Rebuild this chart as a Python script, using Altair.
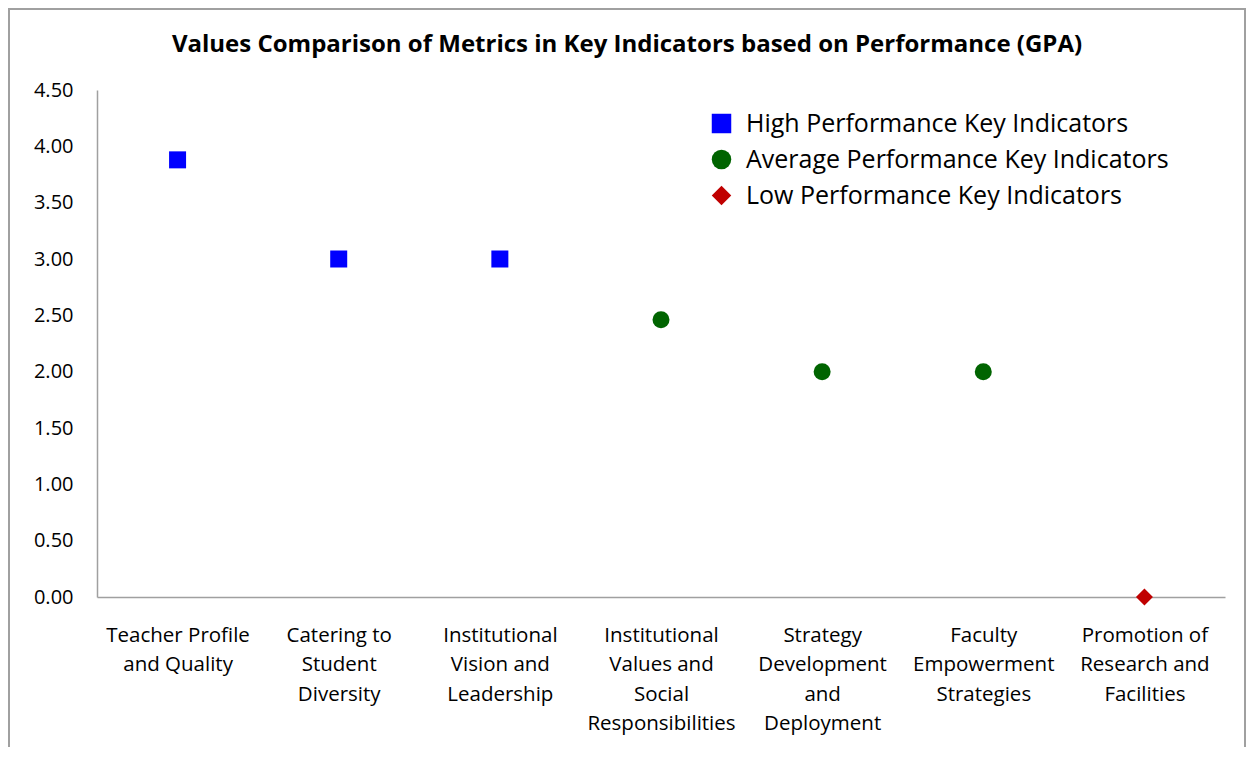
import altair as alt
import pandas as pd

categories = [
    "Teacher Profile\nand Quality",
    "Catering to\nStudent\nDiversity",
    "Institutional\nVision and\nLeadership",
    "Institutional\nValues and\nSocial\nResponsibilities",
    "Strategy\nDevelopment\nand\nDeployment",
    "Faculty\nEmpowerment\nStrategies",
    "Promotion of\nResearch and\nFacilities",
]
values = [3.88, 3.00, 3.00, 2.46, 2.00, 2.00, 0.00]
groups = [
    "High Performance Key Indicators",
    "High Performance Key Indicators",
    "High Performance Key Indicators",
    "Average Performance Key Indicators",
    "Average Performance Key Indicators",
    "Average Performance Key Indicators",
    "Low Performance Key Indicators",
]
group_order = [
    "High Performance Key Indicators",
    "Average Performance Key Indicators",
    "Low Performance Key Indicators",
]
group_colors = ["#0000FF", "#006400", "#C00000"]
group_shapes = ["square", "circle", "diamond"]
y_ticks = [0, 0.5, 1.0, 1.5, 2.0, 2.5, 3.0, 3.5, 4.0, 4.5]
title_text = "Values Comparison of Metrics in Key Indicators based on Performance (GPA)"

df = pd.DataFrame({"cat": categories, "value": values, "group": groups})

W, H = 1128, 507
FONT = "Open Sans"

legend_cfg = dict(
    title=None,
    orient="none",
    legendX=612,
    legendY=21,
    labelFontSize=25,
    labelFont=FONT,
    labelColor="#000000",
    symbolSize=380,
    rowPadding=10,
    labelOffset=12,
    labelLimit=0,
)

points = alt.Chart(df).mark_point(filled=True, opacity=1, size=289).encode(
    x=alt.X(
        "cat:N",
        sort=categories,
        scale=alt.Scale(paddingInner=0, paddingOuter=0),
        axis=alt.Axis(
            title=None,
            labelAngle=0,
            labelExpr="split(datum.label, '\\n')",
            labelFontSize=20.5,
            labelLineHeight=29.5,
            labelPadding=28,
            labelLimit=0,
            labelColor="#000000",
            labelFont=FONT,
            ticks=False,
            domainColor="#A0A0A0",
            domainWidth=1.5,
            grid=False,
        ),
    ),
    y=alt.Y(
        "value:Q",
        scale=alt.Scale(domain=[0, 4.5], nice=False),
        axis=alt.Axis(
            title=None,
            values=y_ticks,
            format=".2f",
            labelFontSize=20,
            labelPadding=24,
            labelColor="#000000",
            labelFont=FONT,
            ticks=False,
            domainColor="#A0A0A0",
            domainWidth=1.5,
            grid=False,
        ),
    ),
    color=alt.Color(
        "group:N",
        scale=alt.Scale(domain=group_order, range=group_colors),
        legend=alt.Legend(**legend_cfg),
    ),
    shape=alt.Shape(
        "group:N",
        scale=alt.Scale(domain=group_order, range=group_shapes),
        legend=alt.Legend(**legend_cfg),
    ),
)

border = alt.Chart(pd.DataFrame({"a": [0]})).mark_rect(
    fill=None, stroke="#A0A0A0", strokeWidth=2
).encode(
    x=alt.value(-88),
    x2=alt.value(W + 20),
    y=alt.value(-81),
    y2=alt.value(H + 200),
)

title = alt.Chart(pd.DataFrame({"t": [title_text]})).mark_text(
    font=FONT,
    fontSize=24,
    fontWeight="bold",
    color="#000000",
    align="center",
    baseline="middle",
).encode(
    text="t:N",
    x=alt.value(W / 2 - 34),
    y=alt.value(-45),
)

chart = alt.layer(border, title, points).properties(
    width=W,
    height=H,
    background="white",
    autosize=alt.AutoSizeParams(type="none"),
    padding={"left": 89, "top": 82, "right": 21, "bottom": 150},
).configure_view(strokeWidth=0, stroke=None)

chart.save("out.html", embed_options={"renderer": "svg", "actions": False})
